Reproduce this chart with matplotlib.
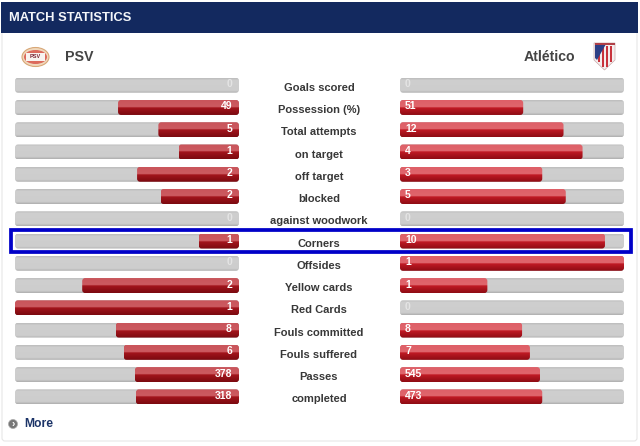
import numpy as np
import matplotlib
matplotlib.use('Agg')
import matplotlib.pyplot as plt
from matplotlib.colors import LinearSegmentedColormap
from matplotlib.patches import FancyBboxPatch, Ellipse, Polygon, Rectangle

plt.rcParams['font.family'] = ['Liberation Sans', 'DejaVu Sans']

stats = ['Goals scored', 'Possession (%)', 'Total attempts', 'on target', 'off target',
         'blocked', 'against woodwork', 'Corners', 'Offsides', 'Yellow cards', 'Red Cards',
         'Fouls committed', 'Fouls suffered', 'Passes', 'completed']
psv_labels = ['0', '49', '5', '1', '2', '2', '0', '1', '0', '2', '1', '8', '6', '378', '318']
atl_labels = ['0', '51', '12', '4', '3', '5', '0', '10', '1', '1', '0', '8', '7', '545', '473']
# share of the track each bar fills
psv_share = [0, 0.54, 0.36, 0.27, 0.455, 0.35, 0, 0.18, 0, 0.70, 1.0, 0.55, 0.515, 0.465, 0.46]
atl_share = [0, 0.55, 0.73, 0.815, 0.635, 0.74, 0, 0.915, 1.0, 0.39, 0, 0.545, 0.58, 0.625, 0.635]

left_x, right_x, track_w = 15, 400, 224
bar_h = 15
first_y, row_step = 85.2, 22.26
red_left = LinearSegmentedColormap.from_list('left', [(0, '#c9555b'), (0.45, '#cc5a60'), (0.52, '#a2141c'), (1, '#7c0a10')])
red_right = LinearSegmentedColormap.from_list('right', [(0, '#de5f67'), (0.45, '#e0666d'), (0.52, '#c01a24'), (1, '#8f0c14')])
gray_cmap = LinearSegmentedColormap.from_list('track', [(0, '#bdbdbd'), (0.15, '#cfcfcf'), (0.85, '#cdcdcd'), (1, '#b0b0b0')])
grad = np.linspace(0, 1, 32).reshape(-1, 1)

fig = plt.figure(figsize=(6.4, 4.46), dpi=100)
ax = fig.add_axes([0, 0, 1, 1])
ax.set_xlim(0, 640)
ax.set_ylim(446, 0)
ax.axis('off')


def rounded_bar(x, y, w, cmap, z):
	if w <= 0:
		return
	box = FancyBboxPatch((x + 3, y - bar_h / 2 + 3), w - 6, bar_h - 6, boxstyle='round,pad=3,rounding_size=3',
						 facecolor='none', edgecolor='none', zorder=z)
	ax.add_patch(box)
	im = ax.imshow(grad, extent=[x, x + w, y + bar_h / 2, y - bar_h / 2], cmap=cmap, aspect='auto', zorder=z, vmin=0, vmax=1)
	im.set_clip_path(box)


# panel + header
ax.add_patch(FancyBboxPatch((2, 4), 635, 437, boxstyle='round,pad=0,rounding_size=3', facecolor='white', edgecolor='#e6e6e6', linewidth=0.8, zorder=1))
ax.add_patch(Rectangle((1, 2), 636.5, 30.5, facecolor='#13295f', edgecolor='none', zorder=2))
ax.text(9, 18, 'MATCH STATISTICS', color='#f4f6fa', fontsize=9.3, fontweight='bold', va='center', zorder=3)

# team names
ax.text(65, 57, 'PSV', color='#444444', fontsize=10.3, fontweight='bold', va='center', zorder=3)
ax.text(575.5, 57, 'Atlético', color='#444444', fontsize=10.2, fontweight='bold', va='center', ha='right', zorder=3)

# PSV crest
ax.add_patch(Ellipse((35.5, 57), 27, 19, facecolor='#f0d8bc', edgecolor='#d8a878', linewidth=0.8, zorder=3))
ax.add_patch(Ellipse((35.5, 57), 23, 14, facecolor='#dc6a5c', edgecolor='none', zorder=3))
ax.add_patch(Rectangle((26, 53), 19, 8, facecolor='#f8f4f0', edgecolor='none', zorder=4))
ax.text(35.5, 57, 'PSV', fontsize=4, fontweight='bold', color='#7a2030', ha='center', va='center', zorder=5)

# Atletico crest
ax.add_patch(Polygon([(594, 43), (615, 43), (615, 60), (604.5, 70), (594, 60)], facecolor='#f4eeee', edgecolor='#c8a8a8', linewidth=0.5, zorder=3))
for sx in (598, 602, 606, 610):
	ax.add_patch(Rectangle((sx, 46), 2.2, 21 if sx in (602, 606) else 16, facecolor='#c8323c', edgecolor='none', zorder=4))
ax.add_patch(Polygon([(595, 44), (606, 44), (597, 60), (595, 58)], facecolor='#2c3f86', edgecolor='none', zorder=5))
ax.add_patch(Rectangle((595, 43), 19.5, 2, facecolor='#b04048', edgecolor='none', zorder=5))

# rows
for i, name in enumerate(stats):
	y = first_y + i * row_step
	rounded_bar(left_x, y, track_w, gray_cmap, 3)
	rounded_bar(right_x, y, track_w, gray_cmap, 3)
	w_l = psv_share[i] * track_w
	w_r = atl_share[i] * track_w
	rounded_bar(left_x + track_w - w_l, y, w_l, red_left, 4)
	rounded_bar(right_x, y, w_r, red_right, 4)
	ax.text(319, y + 2.6, name, color='#383838', fontsize=8, fontweight='bold', ha='center', va='center', zorder=6)
	ax.text(232, y - 1, psv_labels[i], color='white' if w_l else '#e4e4e4', fontsize=7.5, fontweight='bold', ha='right', va='center', zorder=6)
	ax.text(405, y - 1, atl_labels[i], color='white' if w_r else '#e4e4e4', fontsize=7.5, fontweight='bold', ha='left', va='center', zorder=6)

# highlight round Corners
hy = first_y + stats.index('Corners') * row_step
ax.add_patch(Rectangle((11, hy - 10.8), 619.7, 21.4, facecolor='none', edgecolor='#0000c8', linewidth=2.7, zorder=5))

# more link
ax.add_patch(Ellipse((13, 424), 9, 9, facecolor='#777777', edgecolor='#aaaaaa', linewidth=0.5, zorder=3))
ax.text(13, 424, '›', color='white', fontsize=7, fontweight='bold', ha='center', va='center', zorder=4)
ax.text(24, 424, 'More', color='#1c3468', fontsize=8.7, fontweight='bold', va='center', zorder=3)

ax.set_xlim(0, 640)
ax.set_ylim(446, 0)
fig.savefig('out.png', dpi=100)
